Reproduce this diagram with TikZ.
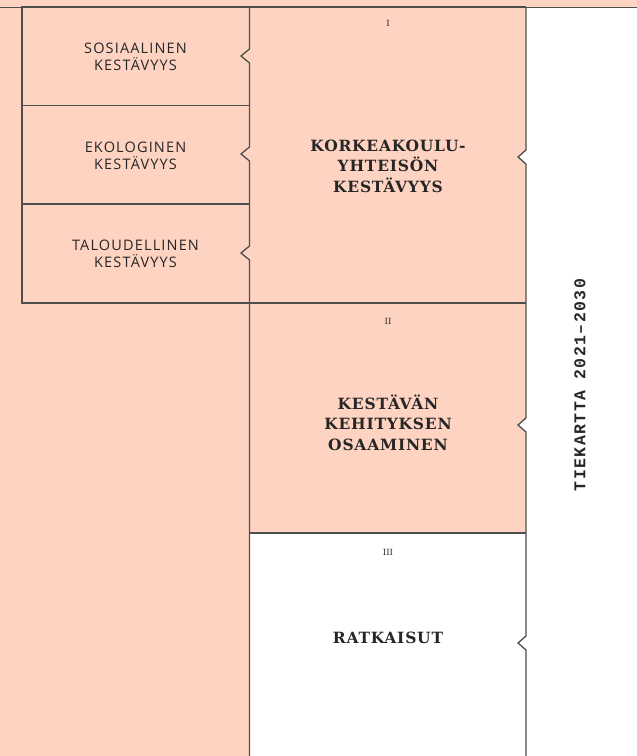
\documentclass[tikz,border=0pt]{standalone}
\usepackage{fontspec}
\setmainfont{DejaVu Serif}
\newfontfamily\labelfont[LetterSpace=8]{Open Sans}
\newfontfamily\titlefont[LetterSpace=5]{DejaVu Serif Bold}
\newfontfamily\numfont{DejaVu Serif}
\newfontfamily\sidefont[LetterSpace=8.7]{Liberation Mono Bold}
\definecolor{peach}{RGB}{255,211,194}
\definecolor{edge}{RGB}{78,78,78}
\tikzset{
  outline/.style={draw=edge, line width=1.3pt, line join=miter},
  sublabel/.style={font=\labelfont\fontsize{14.5}{17}\selectfont, text=black!85, align=center},
  maintitle/.style={font=\titlefont\fontsize{15.5}{20.5}\selectfont, text=black!85, align=center},
  numeral/.style={font=\numfont\fontsize{8.5}{9}\selectfont, text=black!85},
  sidetitle/.style={font=\sidefont\fontsize{16.5}{18}\selectfont, text=black!85, rotate=90}
}
\begin{document}
\begin{tikzpicture}[x=1pt,y=-1pt]
\useasboundingbox (0,0) rectangle (637,756);
% background
\fill[peach] (0,0) rectangle (637,756);
% white right region with notches
\fill[white] (637,7) -- (526,7) -- (526,150) -- (518,157) -- (526,164) -- (526,418) -- (518,425) -- (526,432) -- (526,756) -- (637,756) -- cycle;
% white box III
\fill[white] (249.5,533) rectangle (526,756);
% top line
\draw[draw=edge, line width=0.8pt] (0,7) -- (637,7);
% left boxes
\draw[outline] (249.5,7) -- (22,7) -- (22,303) -- (249.5,303);
\draw[outline] (22,105.5) -- (249.5,105.5);
\draw[outline] (22,204) -- (249.5,204);
% shared edge with notches
\draw[outline] (249.5,7) -- (249.5,49) -- (241,56) -- (249.5,63) -- (249.5,147) -- (241,154) -- (249.5,161) -- (249.5,246) -- (241,253) -- (249.5,260) -- (249.5,756);
% middle column
\draw[outline] (249.5,7) -- (526,7);
\draw[outline] (249.5,303) -- (526,303);
\draw[outline] (249.5,533) -- (526,533);
\draw[outline] (526,7) -- (526,150) -- (518,157) -- (526,164) -- (526,418) -- (518,425) -- (526,432) -- (526,636) -- (518,643) -- (526,650) -- (526,756);
% left labels
\node[sublabel] (sos) at (135.5,56.5) {SOSIAALINEN\\KESTÄVYYS};
\node[sublabel] (eko) at (135.5,155.5) {EKOLOGINEN\\KESTÄVYYS};
\node[sublabel] (tal) at (135.5,253.5) {TALOUDELLINEN\\KESTÄVYYS};
% numerals
\node[numeral] (n1) at (388,23) {I};
\node[numeral] (n2) at (388,321) {II};
\node[numeral] (n3) at (388,552) {III};
% titles
\node[maintitle] (t1) at (388,166) {KORKEAKOULU-\\YHTEISÖN\\KESTÄVYYS};
\node[maintitle] (t2) at (388,422.5) {KESTÄVÄN\\KEHITYKSEN\\OSAAMINEN};
\node[maintitle] (t3) at (388,638) {RATKAISUT};
% side title
\node[sidetitle] (side) at (580,385) {TIEKARTTA 2021–2030};
\end{tikzpicture}
\end{document}
